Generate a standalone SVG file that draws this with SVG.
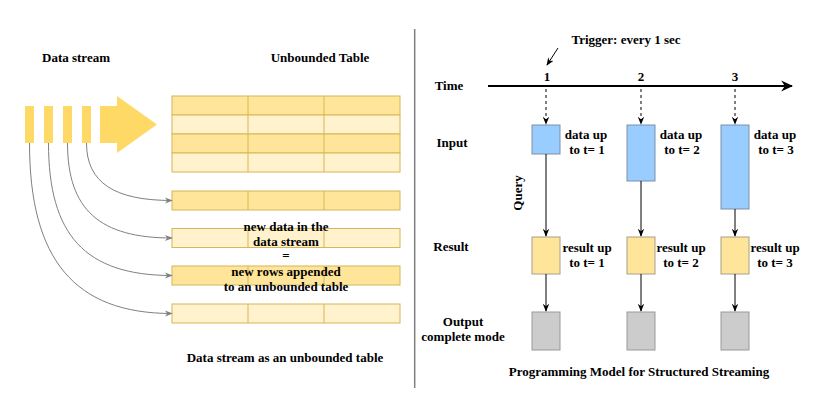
<svg xmlns="http://www.w3.org/2000/svg" width="826" height="406" viewBox="0 0 826 406">
<defs>
<style>
text{font-family:"Liberation Serif","Times New Roman","DejaVu Serif",serif;font-weight:bold;font-size:13px;fill:#000}
.c{text-anchor:middle}
.dk{fill:#FFE599;stroke:#D6B656;stroke-width:1}
.lt{fill:#FFF2CC;stroke:#D6B656;stroke-width:1}
.col{stroke:#D6B656;stroke-width:1}
.bar{fill:#FFD966}
.curve{fill:none;stroke:#808080;stroke-width:1;marker-end:url(#ga)}
.blk{fill:none;stroke:#000;stroke-width:1;marker-end:url(#ba)}
.inp{fill:#99CCFF;stroke:#7f8fa6;stroke-width:1}
.res{fill:#FFE599;stroke:#a8a08a;stroke-width:1}
.out{fill:#CCCCCC;stroke:#999999;stroke-width:1}
</style>
<marker id="ga" viewBox="0 0 10 10" refX="9" refY="5" markerWidth="8" markerHeight="8" markerUnits="userSpaceOnUse" orient="auto"><path d="M0,1 L10,5 L0,9 L3,5 Z" fill="#808080"/></marker>
<marker id="ba" viewBox="0 0 10 10" refX="9" refY="5" markerWidth="8" markerHeight="8" markerUnits="userSpaceOnUse" orient="auto"><path d="M0,1 L10,5 L0,9 L3,5 Z" fill="#000"/></marker>
<marker id="bb" viewBox="0 0 10 10" refX="9" refY="5" markerWidth="12" markerHeight="12" markerUnits="userSpaceOnUse" orient="auto"><path d="M0,0.5 L10,5 L0,9.5 L3,5 Z" fill="#000"/></marker>
</defs>

<g id="label-data-stream"><text x="76" y="62" class="c">Data stream</text></g>
<g id="label-unbounded-table"><text x="320" y="62" class="c">Unbounded Table</text></g>

<g id="stream">
<rect class="bar" x="25" y="106" width="9" height="37"/>
<rect class="bar" x="44" y="106" width="9" height="37"/>
<rect class="bar" x="63" y="106" width="9" height="37"/>
<rect class="bar" x="82" y="106" width="9" height="37"/>
<path class="bar" d="M100,106 L117,106 L117,96 L157,124.5 L117,153 L117,143 L100,143 Z"/>
</g>

<g id="table">
<rect class="dk" x="172" y="96" width="228" height="19"/>
<rect class="lt" x="172" y="115" width="228" height="19"/>
<rect class="dk" x="172" y="134" width="228" height="19"/>
<rect class="lt" x="172" y="153" width="228" height="19"/>
<line class="col" x1="248" y1="96" x2="248" y2="172"/>
<line class="col" x1="324" y1="96" x2="324" y2="172"/>
</g>

<g id="row1"><rect class="dk" x="172" y="191" width="228" height="19"/><line class="col" x1="248" y1="191" x2="248" y2="210"/><line class="col" x1="324" y1="191" x2="324" y2="210"/></g>
<g id="row2"><rect class="lt" x="172" y="228.5" width="228" height="19"/><line class="col" x1="248" y1="228.5" x2="248" y2="247.5"/><line class="col" x1="324" y1="228.5" x2="324" y2="247.5"/></g>
<g id="row3"><rect class="dk" x="172" y="266" width="228" height="19"/><line class="col" x1="248" y1="266" x2="248" y2="285"/><line class="col" x1="324" y1="266" x2="324" y2="285"/></g>
<g id="row4"><rect class="lt" x="172" y="304" width="228" height="19"/><line class="col" x1="248" y1="304" x2="248" y2="323"/><line class="col" x1="324" y1="304" x2="324" y2="323"/></g>

<g id="connectors-left">
<path class="curve" d="M86.5,143 C86.5,183 115,200.5 172,200.5"/>
<path class="curve" d="M67.5,143 C67.5,210 100,238 172,238"/>
<path class="curve" d="M48.5,143 C48.5,235 85,275.5 172,275.5"/>
<path class="curve" d="M29.5,143 C29.5,260 75,313.5 172,313.5"/>
</g>

<g id="label-equation">
<text x="286" y="231" class="c">new data in the</text>
<text x="286" y="246" class="c">data stream</text>
<text x="286" y="260" class="c">=</text>
<text x="286" y="276" class="c">new rows appended</text>
<text x="286" y="291" class="c">to an unbounded table</text>
</g>
<g id="caption-left"><text x="285" y="362" class="c">Data stream as an unbounded table</text></g>

<g id="divider"><line x1="414.7" y1="29" x2="414.7" y2="388" stroke="#808080" stroke-width="1.5"/></g>

<g id="trigger"><text x="626" y="44" class="c">Trigger: every 1 sec</text></g>
<g id="time-label"><text x="449" y="90" class="c">Time</text></g>
<g id="ticks">
<text x="547" y="81" class="c">1</text>
<text x="641" y="81" class="c">2</text>
<text x="735" y="81" class="c">3</text>
</g>
<g id="input-label"><text x="452" y="147" class="c">Input</text></g>
<g id="result-label"><text x="451" y="251" class="c">Result</text></g>
<g id="output-label"><text x="463" y="326" class="c">Output</text><text x="463" y="341" class="c">complete mode</text></g>
<g id="query-label"><text x="0" y="0" class="c" transform="translate(522,193) rotate(-90)">Query</text></g>

<g id="input1"><rect class="inp" x="532" y="125" width="28" height="29"/><text x="586" y="139" class="c">data up</text><text x="587" y="154" class="c">to t= 1</text></g>
<g id="input2"><rect class="inp" x="627" y="125" width="28" height="56"/><text x="681" y="139" class="c">data up</text><text x="682" y="154" class="c">to t= 2</text></g>
<g id="input3"><rect class="inp" x="721" y="125" width="28" height="84"/><text x="775" y="139" class="c">data up</text><text x="776" y="154" class="c">to t= 3</text></g>

<g id="result1"><rect class="res" x="532" y="237" width="28" height="37"/><text x="587" y="252" class="c">result up</text><text x="587" y="267" class="c">to t= 1</text></g>
<g id="result2"><rect class="res" x="627" y="237" width="28" height="37"/><text x="681" y="252" class="c">result up</text><text x="681" y="267" class="c">to t= 2</text></g>
<g id="result3"><rect class="res" x="721" y="237" width="28" height="37"/><text x="775" y="252" class="c">result up</text><text x="775" y="267" class="c">to t= 3</text></g>

<g id="output1"><rect class="out" x="532" y="312" width="28" height="38"/></g>
<g id="output2"><rect class="out" x="627" y="312" width="28" height="38"/></g>
<g id="output3"><rect class="out" x="721" y="312" width="28" height="38"/></g>

<g id="caption-right"><text x="639" y="376" class="c">Programming Model for Structured Streaming</text></g>

<g id="connectors-right">
<line x1="488" y1="86" x2="792" y2="86" stroke="#000" stroke-width="2" marker-end="url(#bb)"/>
<line class="blk" x1="558" y1="48" x2="547" y2="65"/>
<line class="blk" x1="546" y1="89" x2="546" y2="124" stroke-dasharray="3,3"/>
<line class="blk" x1="641" y1="89" x2="641" y2="124" stroke-dasharray="3,3"/>
<line class="blk" x1="735" y1="89" x2="735" y2="124" stroke-dasharray="3,3"/>
<line class="blk" x1="546" y1="154" x2="546" y2="236"/>
<line class="blk" x1="641" y1="181" x2="641" y2="236"/>
<line class="blk" x1="735" y1="209" x2="735" y2="236"/>
<line class="blk" x1="546" y1="274" x2="546" y2="311"/>
<line class="blk" x1="641" y1="274" x2="641" y2="311"/>
<line class="blk" x1="735" y1="274" x2="735" y2="311"/>
</g>
</svg>
